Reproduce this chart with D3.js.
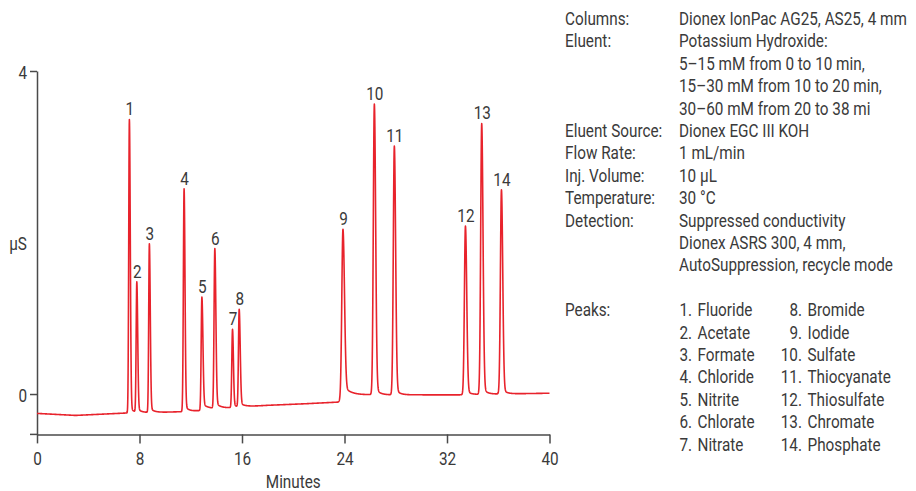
<!DOCTYPE html>
<html>
<head>
<meta charset="utf-8">
<script src="https://cdn.jsdelivr.net/npm/d3@7/dist/d3.min.js"></script>
<style>
  html, body { margin: 0; padding: 0; background: #fff; }
  svg text { font-family: "Roboto", "Liberation Sans", sans-serif; font-size: 18px; fill: #3a3a3a; }
</style>
</head>
<body>
<svg id="chart" width="916" height="491"></svg>
<script>
// Peak table: retention time (min), apex signal (µS), front/back widths (min), tail share and decay (min)
const peakNumbers = [1, 2, 3, 4, 5, 6, 7, 8, 9, 10, 11, 12, 13, 14];
const peakTimes   = [7.21, 7.79, 8.77, 11.48, 12.87, 13.88, 15.26, 15.78, 23.88, 26.33, 27.89, 33.44, 34.71, 36.25];
const peakApex    = [3.40, 1.39, 1.86, 2.54, 1.20, 1.80, 0.80, 1.05, 2.04, 3.59, 3.07, 2.08, 3.35, 2.53];
const peakFront   = [0.05, 0.05, 0.05, 0.055, 0.055, 0.06, 0.055, 0.055, 0.09, 0.08, 0.08, 0.08, 0.08, 0.08];
const peakBack    = [0.07, 0.07, 0.07, 0.07, 0.08, 0.08, 0.07, 0.08, 0.12, 0.10, 0.10, 0.10, 0.10, 0.10];
const peakTail    = [0.02, 0.03, 0.03, 0.03, 0.06, 0.04, 0.04, 0.04, 0.06, 0.03, 0.03, 0.03, 0.03, 0.03];
const peakTau     = [0.3, 0.3, 0.3, 0.3, 0.6, 0.4, 0.3, 0.4, 0.6, 0.3, 0.3, 0.3, 0.3, 0.3];

// Baseline drift of the trace (min, µS)
const baseTimes  = [0, 3, 5, 7, 10, 12, 14, 16, 18, 21, 23.5, 24.3, 26, 30, 33, 36, 40];
const baseValues = [-0.24, -0.265, -0.25, -0.235, -0.225, -0.215, -0.19, -0.16, -0.14, -0.12, -0.10, -0.02, -0.01, -0.01, -0.01, 0.0, 0.01];

// Axis ticks
const xTicks = [0, 8, 16, 24, 32, 40];
const yTicks = [0, 4];

// Method conditions
const infoLabels = ["Columns:", "Eluent:", "", "", "", "Eluent Source:", "Flow Rate:", "Inj. Volume:", "Temperature:", "Detection:", "", ""];
const infoValues = ["Dionex IonPac AG25, AS25, 4 mm", "Potassium Hydroxide:", "5–15 mM from 0 to 10 min,",
  "15–30 mM from 10 to 20 min,", "30–60 mM from 20 to 38 mi", "Dionex EGC III KOH", "1 mL/min",
  "10 µL", "30 °C", "Suppressed conductivity", "Dionex ASRS 300, 4 mm,", "AutoSuppression, recycle mode"];
const peakNames = ["Fluoride", "Acetate", "Formate", "Chloride", "Nitrite", "Chlorate", "Nitrate",
  "Bromide", "Iodide", "Sulfate", "Thiocyanate", "Thiosulfate", "Chromate", "Phosphate"];

const svg = d3.select("#chart");
const x = d3.scaleLinear().domain([0, 40]).range([37, 549.5]);
const y = d3.scaleLinear().domain([-0.5, 4]).range([434.4, 71]);

// Condensed lettering: Roboto squeezed horizontally
const squeeze = 0.85;
function label(parent, px, py, str, anchor = "start") {
  return parent.append("text")
    .attr("transform", `translate(${px},${py}) scale(${squeeze},1)`)
    .attr("text-anchor", anchor).text(str);
}

const baseline = d3.scaleLinear().domain(baseTimes).range(baseValues).clamp(true);

function shape(i, t) {
  const d = t - peakTimes[i];
  if (d < 0) return Math.exp(-0.5 * (d / peakFront[i]) ** 2);
  const a = peakTail[i];
  return (1 - a) * Math.exp(-0.5 * (d / peakBack[i]) ** 2) + a * Math.exp(-d / peakTau[i]);
}

// Scale each peak so the trace reaches its listed apex value
const amp = peakApex.map((v, i) => v - baseline(peakTimes[i]));
function signal(t) {
  let s = baseline(t);
  for (let i = 0; i < amp.length; i++) s += amp[i] * shape(i, t);
  return s;
}
for (let k = 0; k < 6; k++) {
  peakTimes.forEach((t, i) => { amp[i] += peakApex[i] - signal(t); });
}

const times = d3.range(0, 40.0001, 0.01).concat(peakTimes).sort((a, b) => a - b);
const trace = times.map(t => [t, signal(t)]);

// Axes
const axisColor = "#4a4a4a";
const gx = svg.append("g").attr("transform", `translate(0,${y(-0.5)})`)
  .call(d3.axisBottom(x).tickValues(xTicks).tickSize(9).tickSizeOuter(0).tickFormat(d3.format("d")));
const gy = svg.append("g").attr("transform", `translate(${x(0)},0)`)
  .call(d3.axisLeft(y).tickValues(yTicks).tickSize(7).tickSizeOuter(0).tickFormat(d3.format("d")));
[gx, gy].forEach(g => {
  g.selectAll("path, line").attr("stroke", axisColor).attr("stroke-width", 1.5);
  g.selectAll(".tick text").remove();
});
gx.selectAll(".tick").each(function (d) { label(d3.select(this), 0, 30.5, d, "middle"); });
gy.selectAll(".tick").each(function (d) { label(d3.select(this), -10, 7, d, "end"); });
svg.append("line").attr("x1", x(0) - 7).attr("x2", x(0))
  .attr("y1", y(-0.5)).attr("y2", y(-0.5)).attr("stroke", axisColor).attr("stroke-width", 1.5);

label(svg, x(20), 488, "Minutes", "middle");
label(svg, 18, 250, "µS", "middle");

// Chromatogram
svg.append("path").datum(trace)
  .attr("fill", "none").attr("stroke", "#e8232c").attr("stroke-width", 1.6).attr("stroke-linejoin", "round")
  .attr("d", d3.line().x(d => x(d[0])).y(d => y(d[1])));

peakNumbers.forEach((n, i) => label(svg, x(peakTimes[i]) + 0.5, y(peakApex[i]) - 4, n, "middle"));

// Conditions panel
const lineGap = 22.4, firstLine = 25;
const info = svg.append("g");
infoLabels.forEach((s, i) => { if (s) label(info, 565, firstLine + i * lineGap, s); });
infoValues.forEach((s, i) => label(info, 679, firstLine + i * lineGap, s));
const peaksTop = firstLine + 13 * lineGap;
label(info, 565, peaksTop, "Peaks:");
peakNames.forEach((name, i) => {
  const col = i < 7 ? 0 : 1, row = i % 7;
  const yy = peaksTop + row * lineGap;
  label(info, col ? 802 : 692, yy, peakNumbers[i] + ".", "end");
  label(info, col ? 807.5 : 697.5, yy, name);
});
</script>
</body>
</html>
